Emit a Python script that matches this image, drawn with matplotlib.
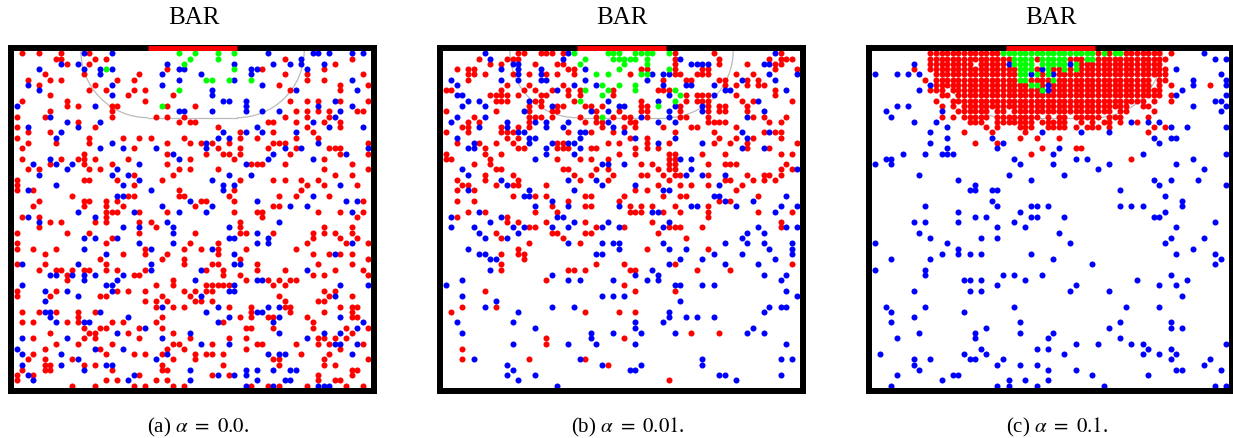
import matplotlib
matplotlib.use("Agg")
import matplotlib.pyplot as plt
from matplotlib.patches import Arc

plt.rcParams['font.family'] = ['Liberation Serif', 'DejaVu Serif']
plt.rcParams['mathtext.fontset'] = 'stix'

W, H = 1233, 438

# one list per grid row (0 = top row), each holds the occupied columns
a_red = [
    [1,4,8,13], [7,8,14,16,48,60], [9,13,57], [27,44,55], [5,12,22,48,52,62],
    [2,6,8,18,21,52,55], [4,14,47,58,63], [13,16,21,23,49,58], [6,20,28],
    [1,9,23,49,52,54,58,63], [9,11,17,18,27,32], [6,17,50,52,54,56,61,62],
    [0,5,17,25,27,30,48,52,56], [11,29,31,32,45,46,50,55,58], [0,14,36,52,58],
    [2,6,40,46,53], [0,13,19,22,24,30,40,43,50,54],
    [2,7,13,27,31,33,35,38,46,47,48,63], [1,21,36,40,45,50,56,57,58],
    [12,27,34,37,38,40,49,58,63], [1,8,11,12,14,20,31,39,55],
    [6,12,17,27,42,43,44,48,60], [2,4,13,15,29,31,36,55,63], [21,28,57,60],
    [0,12,13,18,26,40,46,48,51,54], [0,21,52,55,61], [0,3,29,39,51],
    [10,20,21,29,30,38,47,50,56], [4,12,13,16,18,33,34,39,62],
    [3,12,16,19,32,46,47], [16,17,18,22,27,39,43,44,54,58,62], [1,4,16,44,61],
    [6,8,14,16,22,24,40], [4,25,40,55,60], [0,9,13,22,32,40,41,46,53,55,57,60],
    [17,53,58,61], [0,16,31,36,52,59,63], [0,3,7,23,30,33,36,41,50],
    [5,19,23,27,36,53,56,58,60], [15,26,30,40,63], [0,5,16,30,35,36,43,54,60],
    [4,7,8,10,12,13,16,18,23,34,37,43,48,57,62], [9,21,22,37,40,53,55,63],
    [9,28,41,45,47,49,50], [25,28,34,35,36,37,38,46,48],
    [0,7,18,20,23,30,32,34,35,55,57], [0,6,15,16,26,31,47,56,60],
    [23,25,27,32,33,35,48,54,55], [25,28,30,38,42,48,49,58,60,61],
    [1,4,7,11,14,42,49,55,60], [11,26,40,42,45,46,52,60,61],
    [1,3,9,11,17,19,25,37,53], [12,15,16,22,26,41,42,46,53,59,63],
    [6,13,14,20,28,60], [3,12,14,22,31,38,41,54,55,57,59],
    [7,11,17,28,29,35,43,44,50,54,56,62], [5,15,27,30,41,58],
    [3,16,21,23,26,32,34,35,37,51,56], [2,5,10,28,32,46,47,55,63],
    [5,6,12,14,26,37,47,55,57], [1,5,6,17,26,27,60,61], [0,3,22,35,38,54,60],
    [0,16,18,25,27,54,57,58], [10,14,21,23,28,30,42,45,47,52,59,62],
]
a_blue = [
    [12,17,45,53,54,56,60,62], [51], [8,11,27,39,46,49,51,55],
    [4,12,15,17,29,30,42,43,52], [15,26,33,42], [29,39,60], [2,17,26,44],
    [4,35,50,61], [17,35], [37,38,41,57], [0,14,41,54,60],
    [29,30,35,41,44,47,58], [6,57], [9,15,53], [2,11,43,56,62],
    [8,37,41,44,50], [7,36,38], [17,34,54], [15,19,25,34,48,51,63], [28,46,59],
    [6,29,45,53], [3,7,10,22,41], [9,18], [4,17,20,38,42], [22,35],
    [7,19,37,39,58], [2,24,37], [18,19,53], [31,43,59,61], [26,35,49,52],
    [11,21,29,34,60], [2,14], [4,27,47], [19,22,28,38], [28,43],
    [12,14,18,38,39,45], [22,28,43,45,60], [12,24,35], [16,39,57], [],
    [1,11,24,39,40], [24,33,52], [6,7,10,12,14,19], [12,18,32,43,44],
    [1,16,17,39,58,63], [5,9,17,38,39], [11,33,57], [5],
    [26,36,45,47], [5,6,15,34,43,44], [6,20,38,47,58], [7,12,13,36,46,62],
    [23,61], [18,31,47,55,58], [1,9,26,52], [33,38,57,58,61], [0,14,19],
    [1,8,27,45,47,48,60], [11,25], [1,8,16,17], [12,31,41,43,46,49,50],
    [2,21,36,39,41], [3,20,31,43,48,49], [41,46,54,55,56],
]
a_green = [
    [29,32,36,39], [31,36], [30], [16,39], [], [34,35,38,42], [], [29],
    [], [], [26],
]

b_red = [
    [13,14,17,18,19,21,41,48,60], [6,11,12,13,41,49,58,60,61,62],
    [8,10,16,20,21,41,49,54,59,60], [2,4,5,22,23,35,36,41,46,47,59,63],
    [4,5,7,12,15,18,20,23,33,41,42,45,46,47,52,55], [4,39,43,44,49,50,54,56],
    [11,15,21,50,52,54,56,57], [0,1,10,14,16,19,22,24,30,38,39,40,59],
    [8,9,10,11,13,17,18,22,24,30,43,45,46,47,52,59],
    [9,10,11,16,17,23,35,43,45,46,47,53,55,62],
    [15,17,20,21,25,26,28,35,36,42,47,49,50,54],
    [0,9,15,19,20,27,31,35,36,42,47,49,50,54],
    [5,15,16,17,19,24,27,30,32,33,36,42,43,47,55,57,61],
    [4,6,15,25,27,28,33,34,47,48,49,50,58,60],
    [3,4,10,13,15,28,32,34,39,44,45,52],
    [0,4,10,11,12,22,26,30,41,48,57,59,60], [11,13,33,36,49,52,55,60],
    [2,6,9,12,20,21,29,31,36,40,48,51,54,63],
    [7,13,14,20,21,22,26,27,34,36,38,54,58],
    [0,7,10,31,34,40,41,46,50,60,62], [0,1,8,20,24,26,29,40,41],
    [5,8,35,37,40,41,47,50,51,52,61], [9,10,21,22,27,29,38,40,41,60,62],
    [7,12,23,26,30,35,36,39,41,42,47,54,57,58,60],
    [2,7,13,24,29,40,50,51,55,57,59], [3,4,9,12,13,18,38,42,44,47,53],
    [2,5,34,36,52], [12,16,18,25,26,32,39,42,43,56], [2,5,22,31,49,51],
    [19,25,26,33,35,37,41,47], [4,7,16,20,33,34,35,39,42,47,56,62], [2,11,47],
    [11,13,18,25,37,60], [15,16,27,32,40,41,42,46,60], [9,19,20,25,26,38],
    [10,21,43], [15,24], [13,36,47], [10,13,14], [14], [10,27,32,41,62],
    [10,22,23,25,33,34,45,51], [], [18], [32], [7,34,41], [], [],
    [3,9], [1,25,31,34], [], [], [], [44,49], [18,32], [18], [3], [],
    [3,15,25], [29], [], [], [40], [],
]
b_blue = [
    [7,22,59], [8,21,42], [12,13,44,45,46,47,57,58], [10,13,17,25],
    [13,17,37,39,40,58,63], [1,10,13,17,18,25,36,53,59], [2,23,27,39,43,44,48],
    [20,50,51,61], [2,3,40,48], [4,6,15,29,38,56], [3,7,19,31,32,41,46],
    [14,26,29,40,46,57], [2,7,35,40,54], [1,11,16,18,22,29,38,41],
    [6,11,18,21,30], [13,14,24,25,32,53,58], [2,15,16,24,34,41,54],
    [5,15,19,22,23,38,46], [4,5,18,24,53,57], [18,23], [16,42,44],
    [28,29,32], [3,44,63], [4,43,46,50], [10,22,27], [11,28,34,49],
    [4,15,23,39,40], [14,15,48,49,61], [19,50,55],
    [16,22,31,44,45,52,60,63], [6,37,38,59], [1,10,20,21],
    [8,23,29,40], [1,5,12,14,19,22,28,31,39,56,61,63], [6,13,54,57], [7,11,53],
    [22,28,30,31,39,50,54,57,62], [4,31,40,43,58,62], [6,7,27,28,48,53,62],
    [8,9,42,46,59], [40,50,56], [8,37], [19,34,38,57,61],
    [3,22,24,30,36,38,60], [0,41,42,46,48], [61], [3,28,30,32,63], [9,42],
    [7,19,23,58,60,61], [13,40,57], [40,43,45,48], [2,12,34,39], [16,34,55],
    [3,26,30,35,41,54,57], [26], [12,22,27,34,61], [], [],
    [5,24,46,60,62], [11,28,35,46], [12,33,34], [11,16,49,50,60], [13,52],
    [20],
]
b_green = [
    [23,29,30,31,34,35,36,37,40], [25,30,31,32,33,34,36], [24,32,36],
    [31,40], [27,29,35,36], [], [28,31,34], [25,29,34,41], [28,42], [24,41],
    [38], [], [28],
]

# runs of neighbouring columns, the cluster in (c) is too dense for single lists
c_red_runs = [
    [(10,22),(40,40),(42,42),(45,51),(53,53)],
    [(10,24),(29,29),(35,37),(40,52)],
    [(10,17),(19,23),(37,51)],
    [(7,7),(10,25),(29,29),(32,33),(35,35),(37,52)],
    [(11,25),(30,30),(33,52)],
    [(9,9),(11,25),(28,31),(33,49),(51,52)],
    [(11,27),(30,30),(32,49),(51,51),(53,53),(60,60)],
    [(10,12),(14,29),(32,51)],
    [(12,13),(15,51),(53,53)],
    [(11,11),(14,48),(50,50),(53,53)],
    [(12,12),(14,14),(16,45),(48,49)],
    [(15,20),(22,23),(25,42),(44,45),(50,50)],
    [(12,12),(14,14),(16,20),(22,29),(31,31),(33,34),(36,40),(42,44),(49,49)],
    [(17,19),(22,28),(30,34),(37,37),(39,39),(41,42),(44,44),(47,47)],
    [(20,20),(22,22),(26,28),(31,34),(36,36),(38,40),(42,42),(50,50),(52,52)],
    [(16,16),(21,21),(27,27),(49,49)],
    [(26,26),(29,29),(33,33)],
    [(18,18),(22,22)],
    [(30,30),(36,37)],
    [(28,28)],
    [(46,46)],
]
c_green_runs = [
    [(23,39),(41,41),(43,44)],
    [(25,28),(30,34),(38,39)],
    [(25,28),(30,34),(36,36)],
    [(26,28),(31,31),(34,34),(36,36)],
    [(26,27),(29,29),(31,31)],
    [(26,27),(32,32)],
    [(28,29)],
    [(30,30)],
]
c_blue = [
    [59], [61,63], [7,24,35], [30,54], [0,4,6,8,28,32,62], [57,63],
    [10,31,57,63], [8,30,31,55], [54,63], [61,62], [4,6,57,63], [2,12,62],
    [3], [7,11,46,49,51], [13,53,56,63], [10,30,37,42], [13,21,50,53,54],
    [10,23,51], [13,22,33], [5,9,12,13,14,32,48,63], [2,3,25,36,38,57],
    [0,3,26,32,42,54], [40,59], [8,24,34], [15,28,50,53,58], [18,51,63],
    [17,18,21,22,44], [52], [21,55], [9,22,28,29,31,44,46,48,55], [15,26,52],
    [18,20,28,29,34,50,51], [7,9,15,25,61], [22,27,54], [8,33],
    [10,19,22,53,59], [0,13,35,52], [15,57], [12,15,17,19,28,54,61],
    [3,10,32,62], [39,61], [0,9], [9,23,25,30,53], [16,17,19,27,47,56],
    [22,36,51,54], [7,17,19,35,42], [55], [], [2,9,25,45,51], [3,16], [7],
    [3,26,44,53], [20,42,53,55], [8,18,26,32], [4,18,31,44],
    [36,40,46,48,63], [19,29,31,49,53], [1,16,20,34,48,51,54],
    [7,10,17,18,23,53,60], [7,22,26,29,59], [8,31,36,54,55,62],
    [4,14,15,39,49], [12,24,27,31], [3,22,24,29,41,61,63],
]

titles = ["BAR", "BAR", "BAR"]
captions = [r"(a) $\alpha\ =\ 0.0$.", r"(b) $\alpha\ =\ 0.01$.", r"(c) $\alpha\ =\ 0.1$."]

RED, BLUE, GREEN = "#ff0000", "#0000ff", "#00ff00"


def flatten(rows):
    xs, ys = [], []
    for r, cols in enumerate(rows):
        for c in cols:
            xs.append(c)
            ys.append(r)
    return xs, ys


def from_runs(rows):
    return [[c for a, b in runs for c in range(a, b + 1)] for runs in rows]


panels = [
    (a_red, a_blue, a_green, 11, 194, 198.5),
    (b_red, b_blue, b_green, 440, 622, 628),
    (from_runs(c_red_runs), c_blue, from_runs(c_green_runs), 869, 1051, 1057),
]

fig = plt.figure(figsize=(W / 100, H / 100), dpi=100)

for i, (red, blue, green, left, title_x, cap_x) in enumerate(panels):
    ax = fig.add_axes([left / W, 1 - 391 / H, 363 / W, 343 / H])
    ax.set_xlim(-1, 64)
    ax.set_ylim(64, -1)
    ax.set_xticks([])
    ax.set_yticks([])
    for sp in ax.spines.values():
        sp.set_linewidth(4.3)
        sp.set_color("black")

    # penalty zone outline behind the dots
    for cx, t1, t2 in [(23.5, 90, 180), (39.5, 0, 90)]:
        ax.add_patch(Arc((cx, -0.5), 24, 25.4, theta1=t1, theta2=t2,
                         color="#bbbbbb", lw=0.9, zorder=1))
    ax.plot([23.5, 39.5], [12.2, 12.2], color="#bbbbbb", lw=0.9, zorder=1)

    for rows, col in [(red, RED), (blue, BLUE), (green, GREEN)]:
        xs, ys = flatten(rows)
        ax.scatter(xs, ys, s=19, c=col, linewidths=0, zorder=2, clip_on=False)

    # goal mouth on the top border
    ax.plot([23.5, 39.5], [-1, -1], color=RED, lw=3.6, solid_capstyle="butt",
            zorder=5, clip_on=False)

    fig.text(title_x / W, 1 - 18 / H, titles[i], fontsize=18, ha="center", va="center")
    fig.text(cap_x / W, 1 - 427 / H, captions[i], fontsize=15, ha="center", va="center")

fig.savefig("out.png", dpi=100)
